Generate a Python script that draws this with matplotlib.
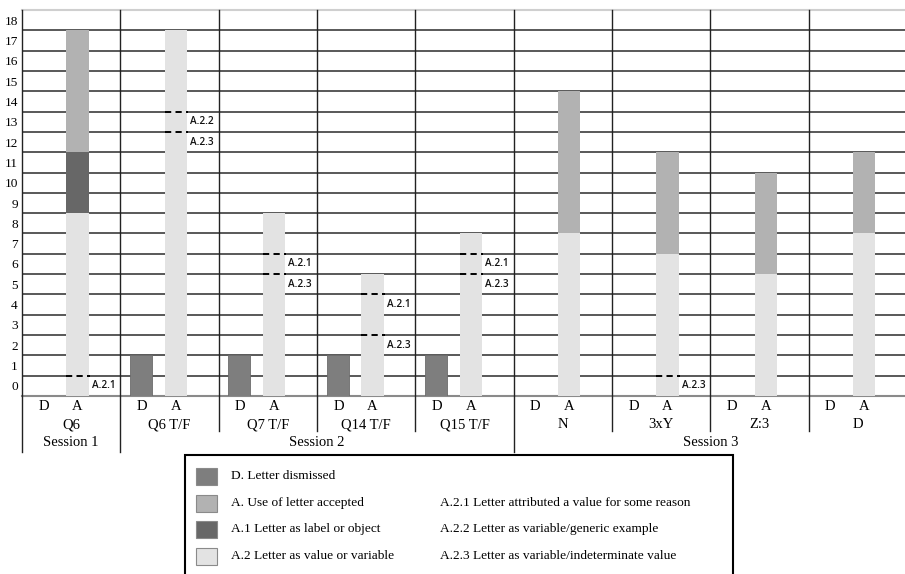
import matplotlib
matplotlib.use("Agg")
import matplotlib.pyplot as plt
from matplotlib.patches import Rectangle
from matplotlib.lines import Line2D

# ---------------- data ----------------
categories = ['Q6', 'Q6 T/F', 'Q7 T/F', 'Q14 T/F', 'Q15 T/F', 'N', '3xY', 'Z:3', 'D']
sessions = ['Session 1', 'Session 2', 'Session 3']
session_groups = [(0, 1), (1, 5), (5, 9)]          # group index ranges
dismissed = [0, 2, 2, 2, 2, 0, 0, 0, 0]             # D
a2_value_variable = [9, 18, 9, 6, 8, 8, 7, 6, 8]    # A.2 (bottom, light)
a1_label_object = [3, 0, 0, 0, 0, 0, 0, 0, 0]       # A.1 (dark)
a_accepted = [6, 0, 0, 0, 0, 7, 5, 5, 4]            # A (top, medium)
# sub-category boundaries inside the A.2 segment: (group, level, label)
sub_marks = [(0, 1, 'A.2.1'),
             (1, 14, 'A.2.2'), (1, 13, 'A.2.3'),
             (2, 7, 'A.2.1'), (2, 6, 'A.2.3'),
             (3, 5, 'A.2.1'), (3, 3, 'A.2.3'),
             (4, 7, 'A.2.1'), (4, 6, 'A.2.3'),
             (6, 1, 'A.2.3')]
y_tick_labels = [str(i) for i in range(19)]
legend_left = ['D. Letter dismissed', 'A. Use of letter accepted',
               'A.1 Letter as label or object', 'A.2 Letter as value or variable']
legend_right = ['A.2.1 Letter attributed a value for some reason',
                'A.2.2 Letter as variable/generic example',
                'A.2.3 Letter as variable/indeterminate value']

# ---------------- style ----------------
C_D = '#7e7e7e'
C_A = '#b2b2b2'
C_A1 = '#676767'
C_A2 = '#e3e3e3'
SERIF = ['Liberation Serif', 'DejaVu Serif']

W, H = 905, 574
fig = plt.figure(figsize=(W / 100, H / 100), dpi=100)

def fx(px):
    return px / W

def fy(py):
    return 1 - py / H

left_px, right_px, top_px, bot_px = 22, 907, 10, 396
ax = fig.add_axes([fx(left_px), fy(bot_px), fx(right_px - left_px), (bot_px - top_px) / H])
n = len(categories)
ax.set_xlim(0, n)
ax.set_ylim(0, 19)

# grid
for yv in range(1, 19):
    ax.axhline(yv, color='#3c3c3c', lw=1.2, zorder=1)
ax.axhline(19, color='#cfcfcf', lw=1.5, zorder=1, clip_on=False)
ax.axhline(0, color='#8a8a8a', lw=1.5, zorder=1, clip_on=False)

for s in ax.spines.values():
    s.set_visible(False)

xs = list(range(n))
xd = [x + 0.21 for x in xs]
xa = [x + 0.565 for x in xs]
bw = 0.225

ax.bar(xd, dismissed, width=bw, color=C_D, edgecolor='#6c6c6c', lw=0.6, zorder=3)
ax.bar(xa, a2_value_variable, width=bw, color=C_A2, lw=0, zorder=3)
bottom1 = a2_value_variable
ax.bar(xa, a1_label_object, width=bw, bottom=bottom1, color=C_A1, lw=0, zorder=3)
bottom2 = [a + b for a, b in zip(a2_value_variable, a1_label_object)]
ax.bar(xa, a_accepted, width=bw, bottom=bottom2, color=C_A, lw=0, zorder=3)

# dashed sub-category boundaries and their labels
for g, lvl, lab in sub_marks:
    ax.plot([xa[g] - bw / 2, xa[g] + bw / 2 + 0.01], [lvl, lvl], color='black',
            lw=1.4, ls=(0, (3.2, 2.2)), zorder=4)
    ax.text(xa[g] + bw / 2 + 0.03, lvl - 0.5, lab, fontsize=7.2, family=['Open Sans', 'DejaVu Sans'],
            fontweight='semibold', ha='left', va='center', color='#111111', zorder=5)

# y ticks (labels centered in the bands)
ax.set_yticks([i + 0.5 for i in range(19)])
ax.set_yticklabels(y_tick_labels, family=SERIF, fontsize=9.6)
ax.tick_params(axis='y', length=0, pad=3)
ax.set_xticks([])

# vertical separators
unit = (bot_px - top_px) / 19.0   # pixels per y unit
def yv_of(py):
    return (bot_px - py) / unit

session_edges = set([a for a, b in session_groups] + [n])
for e in range(0, n):
    low = 452 if e in session_edges else 431
    ax.plot([e, e], [19, yv_of(low)], color='#222222', lw=1.0, zorder=2, clip_on=False)

# category tick labels
for i, cat in enumerate(categories):
    ax.text(xd[i] + 0.01, yv_of(407), 'D', family=SERIF, fontsize=10.5, ha='center', va='center')
    ax.text(xa[i], yv_of(407), 'A', family=SERIF, fontsize=10.5, ha='center', va='center')
    ax.text(i + 0.5, yv_of(425), cat, family=SERIF, fontsize=10.5, ha='center', va='center')
for (a, b), s in zip(session_groups, sessions):
    ax.text((a + b) / 2, yv_of(443), s, family=SERIF, fontsize=10.5, ha='center', va='center')

# ---------------- legend box ----------------
fig.patches.append(Rectangle((fx(185), fy(590)), fx(733 - 185), (590 - 455) / H,
                             transform=fig.transFigure, fill=False, edgecolor='black', lw=1.5))
rows = [476, 503, 529, 556]
for r, lab, c in zip(rows, legend_left, [C_D, C_A, C_A1, C_A2]):
    fig.patches.append(Rectangle((fx(196), fy(r + 8.5)), fx(21), 17 / H, transform=fig.transFigure,
                                 facecolor=c, edgecolor='#8a8a8a', lw=0.8))
    fig.text(fx(231), fy(r), lab, family=SERIF, fontsize=9.6, ha='left', va='center')
for r, lab in zip(rows[1:], legend_right):
    fig.text(fx(440), fy(r), lab, family=SERIF, fontsize=9.6, ha='left', va='center')

fig.savefig('out.png', dpi=100)
